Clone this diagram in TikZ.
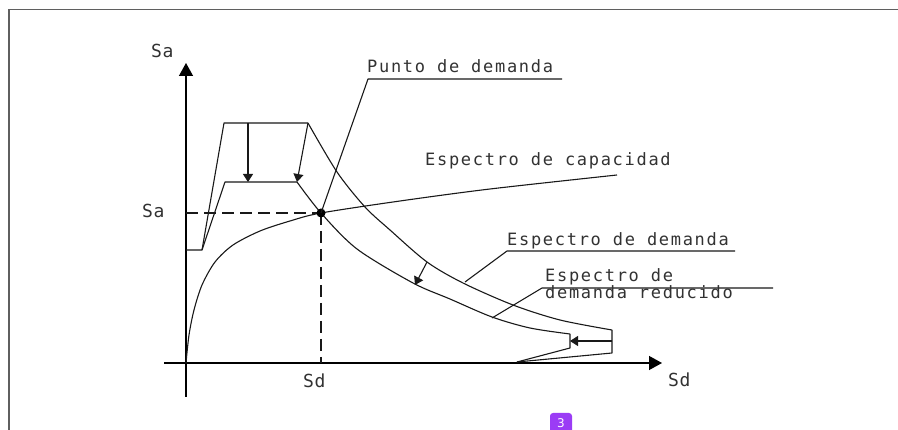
\documentclass[tikz,border=0pt]{standalone}
\usepackage{fontspec}
\usetikzlibrary{arrows.meta}
\newfontfamily\cad[LetterSpace=10]{DejaVu Sans Mono}
\newfontfamily\cadax[LetterSpace=4]{DejaVu Sans Mono}
\newfontfamily\badgefont{DejaVu Sans}
\definecolor{inkgray}{RGB}{25,25,25}
\definecolor{txtgray}{RGB}{50,50,50}
\definecolor{framegray}{RGB}{95,95,95}
\definecolor{badgepurple}{RGB}{155,60,245}
\begin{document}
\begin{tikzpicture}[x=1pt,y=-1pt,
  frame/.style={draw=framegray,line width=1.4pt},
  axis/.style={draw=black,line width=1.4pt,-{Triangle[length=13pt,width=14pt]}},
  curve/.style={draw=inkgray,line width=1.1pt,line join=round},
  sarrow/.style={draw=inkgray,line width=1.1pt,-{Triangle[length=8pt,width=10pt]}},
  dashline/.style={draw=inkgray,line width=1.1pt,dash pattern=on 12pt off 6pt},
  lbl/.style={font=\cad\fontsize{17}{19}\selectfont,text=txtgray,anchor=base west,inner sep=0pt},
  axlbl/.style={font=\cadax\fontsize{18}{20}\selectfont,text=txtgray,anchor=base west,inner sep=0pt}]
\useasboundingbox (0,0) rectangle (898,430);
% frame
\draw[frame] (9,432) -- (9,9.5) -- (900,9.5);
% axes
\coordinate (O) at (186,363);
\coordinate (ytop) at (186,63);
\coordinate (ybot) at (186,397);
\coordinate (xl) at (164,363);
\coordinate (xr) at (662,363);
\draw[axis] (ybot) -- (ytop);
\draw[axis] (xl) -- (xr);
% outer demand spectrum
\coordinate (a0) at (186,250);
\coordinate (a1) at (202,250);
\coordinate (a2) at (224,123);
\coordinate (a3) at (308,123);
\coordinate (a4) at (612,330);
\coordinate (a5) at (612,353);
\coordinate (a6) at (517,362);
\draw[curve] (a0) -- (a1) -- (a2) -- (a3);
\draw[curve] plot[smooth] coordinates {(308,123) (337,172) (365,207) (390,230) (427,262) (463,283) (513,305) (560,320) (612,330)};
\draw[curve] (a4) -- (a5) -- (a6);
% reduced demand spectrum
\coordinate (b2) at (225,182);
\coordinate (b3) at (297,182);
\coordinate (P) at (321,213);
\coordinate (b4) at (570,334);
\coordinate (b5) at (570,348);
\draw[curve] (a1) -- (b2) -- (b3);
\draw[curve] plot[smooth] coordinates {(297,182) (321,213) (357,249) (413,283) (450,299) (492,317) (530,328) (570,334)};
\draw[curve] (b4) -- (b5) -- (a6);
% capacity spectrum
\draw[curve] plot[smooth] coordinates {(186,363) (189,335) (194,310) (202,285) (215,262) (233,245) (260,231) (290,221) (321,213) (400,201) (490,189) (617,175)};
% reduction arrows
\coordinate (r1s) at (248,123);
\coordinate (r1e) at (248,182);
\draw[sarrow] (r1s) -- (r1e);
\draw[sarrow] (a3) -- (b3);
\coordinate (r3s) at (427,262);
\coordinate (r3e) at (415,285);
\draw[sarrow] (r3s) -- (r3e);
\coordinate (r4s) at (612,341);
\coordinate (r4e) at (570,341);
\draw[sarrow] (r4s) -- (r4e);
% performance point
\coordinate (sayax) at (186,213);
\coordinate (sdxax) at (321,363);
\draw[dashline] (sayax) -- (P);
\draw[dashline] (P) -- (sdxax);
\fill[black] (P) circle (4.5);
% leaders
\coordinate (l1a) at (368,79);
\coordinate (l1b) at (562,79);
\draw[curve] (P) -- (l1a) -- (l1b);
\coordinate (l2s) at (465,282);
\coordinate (l2a) at (507,251);
\coordinate (l2b) at (735,251);
\draw[curve] (l2s) -- (l2a) -- (l2b);
\coordinate (l3s) at (492,318);
\coordinate (l3a) at (542,288);
\coordinate (l3b) at (773,288);
\draw[curve] (l3s) -- (l3a) -- (l3b);
% labels
\node[axlbl] (saTop) at (151,58) {Sa};
\node[axlbl] (saLeft) at (142,218) {Sa};
\node[axlbl] (sdBot) at (303,388) {Sd};
\node[axlbl] (sdRight) at (668,387) {Sd};
\node[lbl] (tPunto) at (367,73) {Punto de demanda};
\node[lbl] (tCap) at (425,166) {Espectro de capacidad};
\node[lbl] (tDem) at (507,246) {Espectro de demanda};
\node[lbl] (tRed1) at (545,282) {Espectro de};
\node[lbl] (tRed2) at (545,299) {demanda reducido};
% badge
\fill[badgepurple,rounded corners=3pt] (550,413) rectangle (572,436);
\node[inner sep=0pt,text=white,font=\badgefont\fontsize{12}{13}\selectfont,anchor=base] (badge) at (561,428) {3};
\end{tikzpicture}
\end{document}
